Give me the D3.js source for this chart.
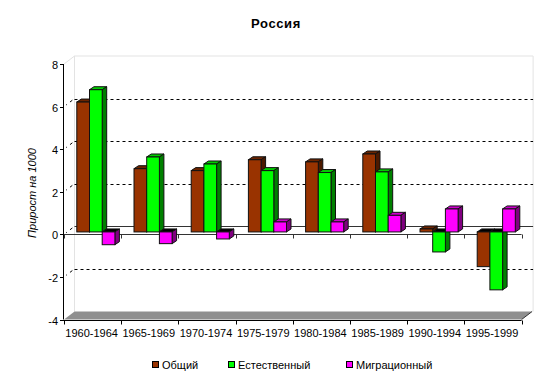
<!DOCTYPE html>
<html><head><meta charset="utf-8">
<script src="https://cdn.jsdelivr.net/npm/d3@7"></script>
<style>body{margin:0;background:#fff}svg{display:block}text{font-family:"Liberation Sans",Arial,sans-serif}</style>
</head><body>
<script>
const title = "Россия";
const yAxisTitle = "Прирост на 1000";
const categories = ["1960-1964","1965-1969","1970-1974","1975-1979","1980-1984","1985-1989","1990-1994","1995-1999"];
const seriesNames = ["Общий","Естественный","Миграционный"];
const totalValues = [6.1, 2.97, 2.88, 3.39, 3.29, 3.66, 0.14, -1.63];
const naturalValues = [6.68, 3.52, 3.19, 2.88, 2.79, 2.82, -0.94, -2.72];
const migrationValues = [-0.6, -0.55, -0.33, 0.47, 0.47, 0.78, 1.08, 1.08];
const yTicks = [-4, -2, 0, 2, 4, 6, 8];

const seriesValues = [totalValues, naturalValues, migrationValues];
const colors = [
  {front:"#993300", top:"#6b2400", side:"#4d1a00"},
  {front:"#00ff00", top:"#00cc00", side:"#008000"},
  {front:"#ff00ff", top:"#cc00cc", side:"#800080"}
];

const W = 554, H = 385;
const svg = d3.select("body").append("svg").attr("width", W).attr("height", H);

// scales (front plane)
const y = d3.scaleLinear().domain([-4, 8]).range([319.5, 64]);
const x = d3.scaleBand().domain(categories).range([64, 521.6]).padding(0);
const inner = d3.scaleBand().domain(seriesNames).range([9.4, 9.4 + 38.1]).padding(0);
const back = {dx: 10.5, dy: -8};       // depth of whole plot box
const barOff = {dx: 3.4, dy: -2.4};    // front face of bars
const barDepth = {dx: 4.5, dy: -3};    // bar depth

const xL = 64, xR = 521.6;

// back wall edges (light grey)
const wall = svg.append("g").attr("fill","none").attr("stroke","#e3e3e3").attr("stroke-width",1);
wall.append("path").attr("d", `M${xL+back.dx},${y(-4)+back.dy}V${y(8)+back.dy}H${xR+back.dx+1}V${y(-4)+back.dy}`);
wall.append("path").attr("d", `M${xL},${y(8)}L${xL+back.dx},${y(8)+back.dy}`);

// back gridlines
const grid = svg.append("g");
yTicks.filter(t => t !== 8 && t !== -4).forEach(t => {
  const yb = Math.round(y(t) + back.dy) + 0.5;
  grid.append("line").attr("x1", xL + back.dx).attr("x2", xR + back.dx + 1)
    .attr("y1", yb).attr("y2", yb)
    .attr("stroke", t === 0 ? "#333" : "#000").attr("stroke-width", 1)
    .attr("stroke-dasharray", t === 0 ? null : "3,3");
  grid.append("line").attr("x1", xL + 2).attr("y1", y(t) - 1.5)
    .attr("x2", xL + back.dx).attr("y2", y(t) + back.dy)
    .attr("stroke", "#000").attr("stroke-width", 1).attr("stroke-dasharray", "3,4").attr("stroke-dashoffset", 2);
});

// floor
svg.append("path")
  .attr("d", `M${xL},${y(-4)}L${xR},${y(-4)}L${xR+back.dx},${y(-4)+back.dy}L${xL+back.dx},${y(-4)+back.dy}Z`)
  .attr("fill", "#8f8f8f");
svg.append("line").attr("x1", xR).attr("y1", y(-4)).attr("x2", xR+back.dx).attr("y2", y(-4)+back.dy)
  .attr("stroke", "#333").attr("stroke-width", 1);

// front zero line with ticks
const zf = Math.round(y(0)) + 0.5;
svg.append("line").attr("x1", xL).attr("x2", xR).attr("y1", zf).attr("y2", zf).attr("stroke", "#333");
[...categories.map(c => x(c)), xR].forEach(px => {
  const xx = Math.round(px) + 0.5;
  svg.append("line").attr("x1", xx).attr("x2", xx).attr("y1", zf).attr("y2", zf + 4).attr("stroke", "#333");
});

// bars
const bars = svg.append("g").attr("stroke", "#111").attr("stroke-width", 1).attr("stroke-linejoin", "miter");
categories.forEach((c, i) => {
  seriesNames.forEach((s, k) => {
    const v = seriesValues[k][i];
    const bx = x(c) + inner(s) + barOff.dx;
    const w = inner.bandwidth();
    const y0 = y(0) + barOff.dy, yv = y(v) + barOff.dy;
    const yt = Math.min(y0, yv), ybm = Math.max(y0, yv);
    const dx = barDepth.dx, dy = barDepth.dy;
    const col = colors[k];
    bars.append("path")
      .attr("d", `M${bx},${yt}L${bx+w},${yt}L${bx+w+dx},${yt+dy}L${bx+dx},${yt+dy}Z`)
      .attr("fill", v >= 0 ? col.top : "#000");
    bars.append("path")
      .attr("d", `M${bx+w},${yt}L${bx+w+dx},${yt+dy}L${bx+w+dx},${ybm+dy}L${bx+w},${ybm}Z`)
      .attr("fill", col.side);
    bars.append("rect").attr("x", bx).attr("y", yt).attr("width", w).attr("height", Math.max(ybm - yt, 0.5))
      .attr("fill", col.front);
  });
});

// y axis
const yAxis = svg.append("g");
yAxis.append("line").attr("x1", xL - 0.5).attr("x2", xL - 0.5).attr("y1", y(8)).attr("y2", y(-4)).attr("stroke", "#000");
yTicks.forEach(t => {
  const yy = Math.round(y(t)) + 0.5;
  yAxis.append("line").attr("x1", xL - 4).attr("x2", xL).attr("y1", yy).attr("y2", yy).attr("stroke", "#000");
  yAxis.append("text").attr("x", xL - 6).attr("y", yy + 4).attr("text-anchor", "end")
    .attr("font-size", 11).attr("fill", "#000").text(t);
});

// bottom category axis
const yb0 = Math.round(y(-4)) + 0.5;
svg.append("line").attr("x1", xL - 0.5).attr("x2", xR).attr("y1", yb0).attr("y2", yb0).attr("stroke", "#000");
[...categories.map(c => x(c)), xR].forEach(px => {
  const xx = Math.round(px) + 0.5;
  svg.append("line").attr("x1", xx).attr("x2", xx).attr("y1", yb0).attr("y2", yb0 + 4).attr("stroke", "#000");
});
categories.forEach(c => {
  svg.append("text").attr("x", x(c) + x.bandwidth() / 2 - 1).attr("y", 337)
    .attr("text-anchor", "middle").attr("font-size", 11).attr("fill", "#000").text(c);
});

// title
svg.append("text").attr("x", 276).attr("y", 28).attr("text-anchor", "middle")
  .attr("font-size", 13).attr("font-weight", "bold").attr("letter-spacing", 0.6).attr("fill", "#000").text(title);

// y axis title
svg.append("text").attr("transform", "translate(36,193) rotate(-90)").attr("text-anchor", "middle")
  .attr("font-size", 11).attr("font-style", "italic").attr("fill", "#000").text(yAxisTitle);

// legend
const legendX = [152, 228, 346];
seriesNames.forEach((s, k) => {
  svg.append("rect").attr("x", legendX[k] + 0.5).attr("y", 361.5).attr("width", 6).attr("height", 6)
    .attr("fill", colors[k].front).attr("stroke", "#000");
  svg.append("text").attr("x", legendX[k] + 10).attr("y", 368.5).attr("font-size", 11).attr("fill", "#000").text(s);
});
</script>
</body></html>
